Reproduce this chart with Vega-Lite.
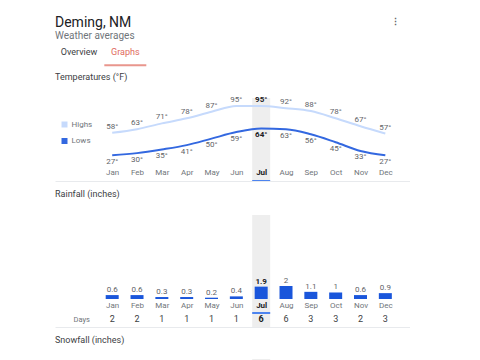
{
  "$schema": "https://vega.github.io/schema/vega-lite/v6.json",
  "background": "white",
  "padding": {"left": 55, "top": 16, "right": 0, "bottom": 0},
  "autosize": {"type": "pad"},
  "bounds": "flush",
  "spacing": 32,
  "title": {"text": "Deming, NM", "subtitle": "Weather averages", "anchor": "start", "frame": "group", "fontSize": 14, "fontWeight": "normal", "color": "#202124", "subtitleFontSize": 10, "subtitleColor": "#70757a", "subtitleFont": "Roboto", "offset": 0, "dy": 23, "subtitlePadding": 1},
  "config": {
    "font": "Roboto",
    "view": {"stroke": null},
    "title": {"anchor": "start", "frame": "group", "fontSize": 9, "fontWeight": "normal", "color": "#3c4043", "offset": 14}
  },
  "resolve": {"scale": {"x": "independent", "y": "independent", "color": "independent"}},
  "data": {
    "values": [
      {"month": 1, "name": "Jan", "Highs": 58, "Lows": 27, "rain": 0.6, "days": 2},
      {"month": 2, "name": "Feb", "Highs": 63, "Lows": 30, "rain": 0.6, "days": 2},
      {"month": 3, "name": "Mar", "Highs": 71, "Lows": 35, "rain": 0.3, "days": 1},
      {"month": 4, "name": "Apr", "Highs": 78, "Lows": 41, "rain": 0.3, "days": 1},
      {"month": 5, "name": "May", "Highs": 87, "Lows": 50, "rain": 0.2, "days": 1},
      {"month": 6, "name": "Jun", "Highs": 95, "Lows": 59, "rain": 0.4, "days": 1},
      {"month": 7, "name": "Jul", "Highs": 95, "Lows": 64, "rain": 1.9, "days": 6},
      {"month": 8, "name": "Aug", "Highs": 92, "Lows": 63, "rain": 2, "days": 6},
      {"month": 9, "name": "Sep", "Highs": 88, "Lows": 56, "rain": 1.1, "days": 3},
      {"month": 10, "name": "Oct", "Highs": 78, "Lows": 45, "rain": 1, "days": 3},
      {"month": 11, "name": "Nov", "Highs": 67, "Lows": 33, "rain": 0.6, "days": 2},
      {"month": 12, "name": "Dec", "Highs": 57, "Lows": 27, "rain": 0.9, "days": 3}
    ]
  },
  "vconcat": [
    {
      "width": 94.3,
      "height": 26.3,
      "data": {"values": [{"tab": "Overview"}, {"tab": "Graphs"}]},
      "title": {"text": "⋮", "anchor": "end", "frame": "group", "dx": 251, "fontSize": 9, "fontWeight": "bold", "color": "#5f6368", "offset": 12},
      "encoding": {
        "x": {"field": "tab", "type": "nominal", "scale": {"type": "point", "domain": ["Overview", "Graphs"], "padding": 0.518}, "axis": null}
      },
      "layer": [
        {
          "mark": {"type": "text", "fontSize": 9, "baseline": "middle"},
          "encoding": {
            "y": {"datum": 0.5, "type": "quantitative", "scale": {"domain": [0, 1]}, "axis": null},
            "text": {"field": "tab"},
            "color": {"condition": {"test": "datum.tab == 'Graphs'", "value": "#e0695c"}, "value": "#3c4043"}
          }
        },
        {
          "transform": [{"filter": "datum.tab == 'Graphs'"}],
          "mark": {"type": "tick", "size": 42, "thickness": 2, "color": "#e0695c", "orient": "horizontal"},
          "encoding": {"y": {"datum": 0, "type": "quantitative"}}
        }
      ]
    },
    {
      "width": 355,
      "height": 83,
      "title": {"text": "Temperatures (°F)"},
      "encoding": {
        "x": {
          "field": "month", "type": "quantitative",
          "scale": {"domain": [-1.102, 12.792], "nice": false, "zero": false},
          "axis": {
            "values": [1, 2, 3, 4, 5, 6, 7, 8, 9, 10, 11, 12],
            "labelExpr": "['Jan','Feb','Mar','Apr','May','Jun','Jul','Aug','Sep','Oct','Nov','Dec'][datum.value - 1]",
            "title": null, "grid": false, "ticks": false, "tickSize": 0, "zindex": 1,
            "domainColor": "#e8eaed", "labelPadding": -8.3, "labelBaseline": "middle",
            "labelFontSize": 8, "labelFlush": false, "labelOverlap": false, "labelBound": false,
            "labelColor": {"condition": {"test": "datum.value == 7", "value": "#202124"}, "value": "#70757a"},
            "labelFontWeight": {"condition": {"test": "datum.value == 7", "value": "bold"}, "value": "normal"}
          }
        },
        "y": {"field": "Highs", "type": "quantitative", "scale": {"domain": [-8.45, 106.03], "nice": false, "zero": false}, "axis": null}
      },
      "layer": [
        {
          "transform": [{"filter": "datum.month == 7"}],
          "mark": {"type": "bar", "size": 18, "color": "#eeeeee"},
          "encoding": {"y": {"datum": 106.03, "type": "quantitative"}, "y2": {"datum": -8.45}}
        },
        {
          "transform": [{"filter": "datum.month == 7"}],
          "mark": {"type": "bar", "size": 18, "color": "#4d84ef"},
          "encoding": {"y": {"datum": -7.07, "type": "quantitative"}, "y2": {"datum": -9.83}}
        },
        {
          "transform": [{"fold": ["Highs", "Lows"], "as": ["series", "temp"]}],
          "mark": {"type": "line", "interpolate": "monotone", "strokeWidth": 2},
          "encoding": {
            "y": {"field": "temp", "type": "quantitative"},
            "color": {
              "field": "series", "type": "nominal",
              "scale": {"domain": ["Highs", "Lows"], "range": ["#c6dafc", "#3368e0"]},
              "legend": {"title": null, "orient": "none", "legendX": 5.5, "legendY": 22.5, "direction": "vertical", "symbolType": "square", "symbolSize": 4, "symbolStrokeWidth": 4, "labelFontSize": 8, "labelColor": "#70757a", "labelOffset": 3, "rowPadding": -1.5, "padding": 0}
            }
          }
        },
        {
          "mark": {"type": "text", "fontSize": 8, "baseline": "middle", "dy": -6, "text": {"expr": "datum.Highs + '°'"}, "fontWeight": {"expr": "datum.month == 7 ? 'bold' : 'normal'"}},
          "encoding": {
            "y": {"field": "Highs", "type": "quantitative"},
            "color": {"condition": {"test": "datum.month == 7", "value": "#202124"}, "value": "#5f6368"}
          }
        },
        {
          "mark": {"type": "text", "fontSize": 8, "baseline": "middle", "dy": 6.5, "text": {"expr": "datum.Lows + '°'"}, "fontWeight": {"expr": "datum.month == 7 ? 'bold' : 'normal'"}},
          "encoding": {
            "y": {"field": "Lows", "type": "quantitative"},
            "color": {"condition": {"test": "datum.month == 7", "value": "#202124"}, "value": "#5f6368"}
          }
        }
      ]
    },
    {
      "width": 355,
      "height": 114,
      "title": {"text": "Rainfall (inches)"},
      "encoding": {
        "x": {
          "field": "month", "type": "quantitative",
          "scale": {"domain": [-1.102, 12.792], "nice": false, "zero": false},
          "axis": {
            "values": [1, 2, 3, 4, 5, 6, 7, 8, 9, 10, 11, 12],
            "labelExpr": "['Jan','Feb','Mar','Apr','May','Jun','Jul','Aug','Sep','Oct','Nov','Dec'][datum.value - 1]",
            "title": null, "grid": false, "ticks": false, "tickSize": 0, "zindex": 1,
            "domainColor": "#e8eaed", "labelPadding": -22, "labelBaseline": "middle",
            "labelFontSize": 8, "labelFlush": false, "labelOverlap": false, "labelBound": false,
            "labelColor": {"condition": {"test": "datum.value == 7", "value": "#202124"}, "value": "#70757a"},
            "labelFontWeight": {"condition": {"test": "datum.value == 7", "value": "bold"}, "value": "normal"}
          }
        },
        "y": {
          "field": "rain", "type": "quantitative",
          "scale": {"domain": [-4.31, 13.23], "nice": false, "zero": false},
          "axis": {"values": [-3.08], "labelExpr": "'Days'", "domain": false, "ticks": false, "tickSize": 0, "grid": false, "title": null, "labelAlign": "left", "labelPadding": -18, "labelBaseline": "middle", "labelFontSize": 7.5, "labelColor": "#70757a", "zindex": 1}
        }
      },
      "layer": [
        {
          "data": {"values": [{"grid": 4}, {"grid": 8}, {"grid": 12}]},
          "mark": {"type": "rule", "color": "#eeeeee", "strokeWidth": 1},
          "encoding": {"x": {"datum": 0.27, "type": "quantitative"}, "x2": {"datum": 12.792}, "y": {"field": "grid", "type": "quantitative"}}
        },
        {
          "transform": [{"filter": "datum.month == 7"}],
          "mark": {"type": "bar", "size": 18, "color": "#eeeeee"},
          "encoding": {"y": {"datum": 12.92, "type": "quantitative"}, "y2": {"datum": -4.31}}
        },
        {
          "transform": [{"filter": "datum.month == 7"}],
          "mark": {"type": "bar", "size": 18, "color": "#4d84ef"},
          "encoding": {"y": {"datum": -2.0, "type": "quantitative"}, "y2": {"datum": -2.31}}
        },
        {
          "mark": {"type": "bar", "size": 13, "color": "#1a56db"}
        },
        {
          "mark": {"type": "text", "fontSize": 8, "baseline": "middle", "dy": -5, "fontWeight": {"expr": "datum.month == 7 ? 'bold' : 'normal'"}},
          "encoding": {
            "text": {"field": "rain", "type": "quantitative"},
            "color": {"condition": {"test": "datum.month == 7", "value": "#202124"}, "value": "#5f6368"}
          }
        },
        {
          "mark": {"type": "text", "fontSize": 9, "baseline": "middle", "fontWeight": {"expr": "datum.month == 7 ? 'bold' : 'normal'"}},
          "encoding": {
            "y": {"datum": -3.08, "type": "quantitative"},
            "text": {"field": "days", "type": "quantitative"},
            "color": {"condition": {"test": "datum.month == 7", "value": "#202124"}, "value": "#3c4043"}
          }
        }
      ]
    },
    {
      "width": 355,
      "height": 1.5,
      "title": {"text": "Snowfall (inches)"},
      "transform": [{"filter": "datum.month == 7"}],
      "mark": {"type": "bar", "size": 18, "color": "#eeeeee"},
      "encoding": {
        "x": {"field": "month", "type": "quantitative", "scale": {"domain": [-1.102, 12.792], "nice": false, "zero": false}, "axis": null},
        "y": {"datum": 1, "type": "quantitative", "scale": {"domain": [0, 1]}, "axis": null},
        "y2": {"datum": 0}
      }
    }
  ]
}
